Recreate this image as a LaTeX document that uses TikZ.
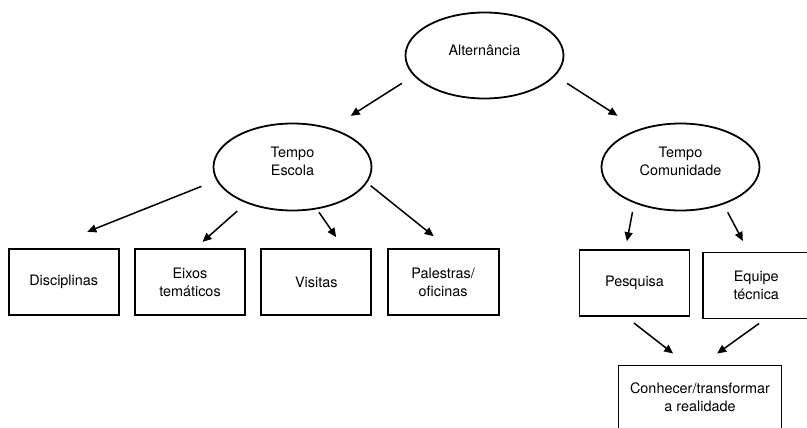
\documentclass[tikz,border=0pt]{standalone}
\usepackage{fontspec}
\setmainfont{TeX Gyre Heros}
\usetikzlibrary{shapes.geometric, positioning, arrows.meta}
\tikzset{
    >={Triangle[length=9pt, width=8pt]},        % Solid arrow heads
    every node/.style={font=\fontsize{14.4pt}{18pt}\selectfont, align=center},
    phase/.style={draw, ellipse, line width=1.8pt, minimum width=158pt,
        minimum height=86pt, inner sep=0pt},    % Ellipses for the two times
    activity/.style={draw, rectangle, line width=1.8pt, minimum width=110pt,
        minimum height=66pt, inner sep=2pt},    % Boxes for the activities
    link/.style={->, line width=1.5pt}          % Arrows between the parts
}

\begin{document}
\begin{tikzpicture}[x=1pt, y=-1pt]
    \useasboundingbox (0,0) rectangle (807,428);

    % Define nodes
    \node [phase, text height=10pt, text depth=10pt] (alt) at (484.5,55.5) {Alternância};
    \node [phase, minimum height=87pt, text depth=12pt] (te) at (292.5,167) {Tempo\\Escola};
    \node [phase, minimum height=87pt, text depth=12pt] (tc) at (680.5,167) {Tempo\\Comunidade};
    \node [activity] (disc) at (63.7,282) {Disciplinas};
    \node [activity, right=14.5pt of disc] (eixos) {Eixos\\temáticos};
    \node [activity, right=14.5pt of eixos] (vis) {Visitas};
    \node [activity, right=14.5pt of vis, minimum width=111pt] (pal) {Palestras/\\oficinas};
    \node [activity] (pes) at (634.5,283) {Pesquisa};
    \node [activity, right=12pt of pes, yshift=-2.5pt, minimum width=106pt] (equ) {Equipe\\técnica};
    \node [activity, minimum width=163pt, minimum height=64pt] (con) at (700,397.5) {Conhecer/transformar\\a realidade};

    % Draw connections
    \draw [link, shorten <=14pt, shorten >=23pt] (alt.196) -- (te.45);
    \draw [link, shorten <=14pt, shorten >=25pt] (alt.344) -- (tc.138);
    \draw [link, shorten <=16pt, shorten >=44pt] (te.190) -- (disc.117);
    \draw [link, shorten <=12pt, shorten >=9.5pt] (te.218) -- (eixos.81);
    \draw [link, shorten <=3.7pt, shorten >=13.4pt] (te.300) -- (vis.51);
    \draw [link, shorten <=4.5pt, shorten >=19pt] (te.348) -- (pal.81);
    \draw [link, shorten <=9pt, shorten >=8pt] (tc.218) -- (pes.105);
    \draw [link, shorten <=9pt, shorten >=12pt] (tc.319) -- (equ.103);
    \draw [link, shorten <=10pt, shorten >=18pt] (pes.256) -- (con.111);
    \draw [link, shorten <=7pt, shorten >=19pt] (equ.284) -- (con.87);
\end{tikzpicture}
\end{document}
